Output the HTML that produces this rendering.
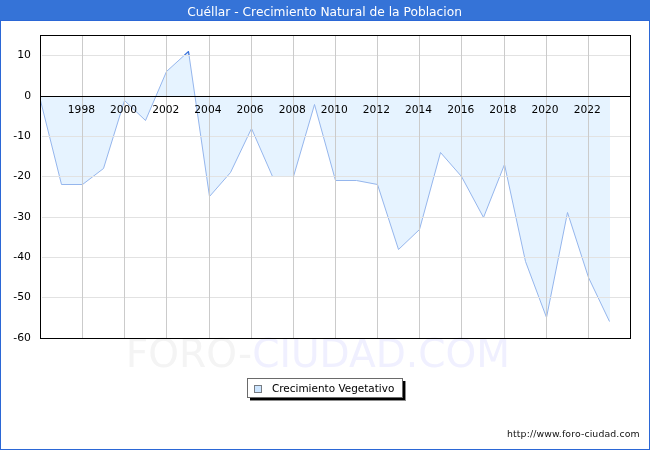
<!DOCTYPE html>
<html lang="es"><head><meta charset="utf-8"><title>Cuéllar - Crecimiento Natural de la Poblacion</title>
<style>html,body{margin:0;padding:0;background:#fff;}svg{display:block;font-family:"DejaVu Sans", "Liberation Sans", sans-serif;}</style></head><body>
<svg width="650" height="450" viewBox="0 0 650 450">
<rect x="0" y="0" width="650" height="450" fill="#ffffff"/>
<text x="125.8" y="367" font-size="39.1"><tspan fill="#f4f4f4">FORO-</tspan><tspan fill="#f0f0ff">CIUDAD.COM</tspan></text>
<path d="M40.0,96.5 L40.5,100.5 L61.5,184.5 L82.5,184.5 L103.5,168.5 L124.5,100.5 L145.5,120.5 L166.5,71.5 L188.5,51.5 L209.5,196.5 L230.5,172.5 L251.5,128.5 L272.5,176.5 L293.5,176.5 L314.5,104.5 L335.5,180.5 L356.5,180.5 L377.5,184.5 L398.5,249.5 L419.5,229.5 L440.5,152.5 L461.5,176.5 L483.5,217.5 L504.5,164.5 L525.5,261.5 L546.5,317.5 L567.5,212.5 L588.5,277.5 L609.5,321.5 L610.0,321.5 L610.0,96.5 Z" fill="#e6f3ff" stroke="none"/>
<path d="M40.5,100.5 L61.5,184.5 L82.5,184.5 L103.5,168.5 L124.5,100.5 L145.5,120.5 L166.5,71.5 L188.5,51.5 L209.5,196.5 L230.5,172.5 L251.5,128.5 L272.5,176.5 L293.5,176.5 L314.5,104.5 L335.5,180.5 L356.5,180.5 L377.5,184.5 L398.5,249.5 L419.5,229.5 L440.5,152.5 L461.5,176.5 L483.5,217.5 L504.5,164.5 L525.5,261.5 L546.5,317.5 L567.5,212.5 L588.5,277.5 L609.5,321.5" fill="none" stroke="#95b6ed" stroke-width="1" stroke-linejoin="round"/>
<clipPath id="tip"><rect x="40" y="35" width="590" height="20"/></clipPath>
<path d="M40.5,100.5 L61.5,184.5 L82.5,184.5 L103.5,168.5 L124.5,100.5 L145.5,120.5 L166.5,71.5 L188.5,51.5 L209.5,196.5 L230.5,172.5 L251.5,128.5 L272.5,176.5 L293.5,176.5 L314.5,104.5 L335.5,180.5 L356.5,180.5 L377.5,184.5 L398.5,249.5 L419.5,229.5 L440.5,152.5 L461.5,176.5 L483.5,217.5 L504.5,164.5 L525.5,261.5 L546.5,317.5 L567.5,212.5 L588.5,277.5 L609.5,321.5" fill="none" stroke="#3a72da" stroke-width="1.1" stroke-linejoin="round" clip-path="url(#tip)"/>
<g stroke="#e2e2e2" stroke-width="1" shape-rendering="crispEdges"><line x1="42" y1="55.5" x2="630" y2="55.5"/><line x1="42" y1="136.5" x2="630" y2="136.5"/><line x1="42" y1="176.5" x2="630" y2="176.5"/><line x1="42" y1="217.5" x2="630" y2="217.5"/><line x1="42" y1="257.5" x2="630" y2="257.5"/><line x1="42" y1="297.5" x2="630" y2="297.5"/></g>
<g stroke="#cbcbcb" stroke-width="1" shape-rendering="crispEdges"><line x1="82.5" y1="35" x2="82.5" y2="338"/><line x1="124.5" y1="35" x2="124.5" y2="338"/><line x1="166.5" y1="35" x2="166.5" y2="338"/><line x1="209.5" y1="35" x2="209.5" y2="338"/><line x1="251.5" y1="35" x2="251.5" y2="338"/><line x1="293.5" y1="35" x2="293.5" y2="338"/><line x1="335.5" y1="35" x2="335.5" y2="338"/><line x1="377.5" y1="35" x2="377.5" y2="338"/><line x1="419.5" y1="35" x2="419.5" y2="338"/><line x1="461.5" y1="35" x2="461.5" y2="338"/><line x1="504.5" y1="35" x2="504.5" y2="338"/><line x1="546.5" y1="35" x2="546.5" y2="338"/><line x1="588.5" y1="35" x2="588.5" y2="338"/></g>
<g stroke="#000" stroke-width="1" shape-rendering="crispEdges" fill="none">
<line x1="40" y1="96.5" x2="630" y2="96.5"/>
<rect x="40.5" y="35.5" width="590" height="303"/>
</g>
<text x="31" y="58.0" text-anchor="end" font-size="10.8">10</text>
<text x="31" y="99.0" text-anchor="end" font-size="10.8">0</text>
<text x="31" y="139.0" text-anchor="end" font-size="10.8">-10</text>
<text x="31" y="179.0" text-anchor="end" font-size="10.8">-20</text>
<text x="31" y="220.0" text-anchor="end" font-size="10.8">-30</text>
<text x="31" y="260.0" text-anchor="end" font-size="10.8">-40</text>
<text x="31" y="300.0" text-anchor="end" font-size="10.8">-50</text>
<text x="31" y="341.0" text-anchor="end" font-size="10.8">-60</text>
<text x="81.4" y="113" text-anchor="middle" font-size="10.67">1998</text>
<text x="123.6" y="113" text-anchor="middle" font-size="10.67">2000</text>
<text x="165.7" y="113" text-anchor="middle" font-size="10.67">2002</text>
<text x="207.9" y="113" text-anchor="middle" font-size="10.67">2004</text>
<text x="250.0" y="113" text-anchor="middle" font-size="10.67">2006</text>
<text x="292.2" y="113" text-anchor="middle" font-size="10.67">2008</text>
<text x="334.3" y="113" text-anchor="middle" font-size="10.67">2010</text>
<text x="376.4" y="113" text-anchor="middle" font-size="10.67">2012</text>
<text x="418.6" y="113" text-anchor="middle" font-size="10.67">2014</text>
<text x="460.7" y="113" text-anchor="middle" font-size="10.67">2016</text>
<text x="502.9" y="113" text-anchor="middle" font-size="10.67">2018</text>
<text x="545.0" y="113" text-anchor="middle" font-size="10.67">2020</text>
<text x="587.2" y="113" text-anchor="middle" font-size="10.67">2022</text>
<rect x="0" y="0" width="1" height="450" fill="#2b67d6"/>
<rect x="649" y="0" width="1" height="450" fill="#2b67d6"/>
<rect x="0" y="0" width="650" height="21" fill="#2b67d6"/>
<rect x="0" y="0" width="650" height="20" fill="#3573d7"/>
<rect x="0" y="449" width="650" height="1" fill="#2b67d6"/>
<text x="324.6" y="16.4" text-anchor="middle" font-size="12.25" fill="#ffffff">Cuéllar - Crecimiento Natural de la Poblacion</text>
<rect x="250" y="381" width="156" height="20" fill="#8c8c8c"/>
<rect x="250" y="381" width="155" height="19" fill="#000"/>
<rect x="247.5" y="378.5" width="155" height="19" fill="#fff" stroke="#6a6a6a" stroke-width="1" shape-rendering="crispEdges"/>
<rect x="254.5" y="385.5" width="7" height="7" fill="#cce5ff" stroke="#777c82" stroke-width="1" shape-rendering="crispEdges"/>
<text x="272" y="392" font-size="10.67" textLength="122.3" lengthAdjust="spacingAndGlyphs">Crecimiento Vegetativo</text>
<text x="507" y="437" font-size="9.35" textLength="132.6" lengthAdjust="spacing" fill="#111">http://www.foro-ciudad.com</text>
</svg></body></html>
